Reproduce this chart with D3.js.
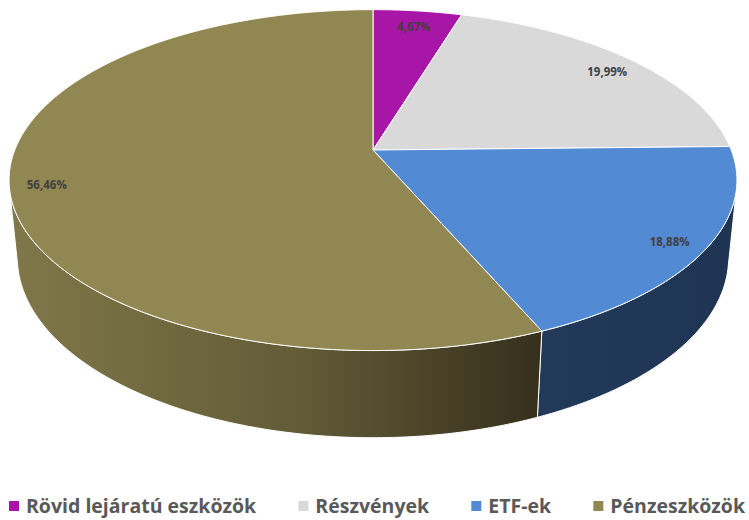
<!DOCTYPE html>
<html><head><meta charset="utf-8">
<script src="https://cdn.jsdelivr.net/npm/d3@7"></script>
<style>body{margin:0;background:#fff}svg{display:block}</style></head>
<body>
<svg id="c" width="749" height="520"></svg>
<script>
const categories = ["Rövid lejáratú eszközök", "Részvények", "ETF-ek", "Pénzeszközök"];
const values = [4.67, 19.99, 18.88, 56.46];
const valueLabels = ["4,67%", "19,99%", "18,88%", "56,46%"];
const topColors = ["#A816A8", "#D9D9D9", "#538AD4", "#918752"];
const sideColorsA = ["#6a0d6a", "#8a8a8a", "#22395a", "#807849"];
const sideColorsB = ["#4a084a", "#6a6a6a", "#1f3453", "#362f1c"];

const svg = d3.select("#c");
const cx = 373, cy = 150, alpha = Math.asin(0.461), R = 0.199, f = 1800, T = 0.049;
const sa = Math.sin(alpha), ca = Math.cos(alpha);
function proj(theta, y, k = 1) {
  const x = k * R * Math.sin(theta), z = k * R * Math.cos(theta);
  const depth = -y * sa + 1 + z * ca;
  const up = y * ca + z * sa;
  return [cx + f * x / depth, cy - f * up / depth];
}
function arcPts(a0, a1, y) {
  const n = Math.max(2, Math.ceil((a1 - a0) / 0.01));
  return d3.range(n + 1).map(i => proj(a0 + (a1 - a0) * i / n, y));
}
const pie = d3.pie().sort(null).value(d => d)(values);
const line = d3.line();
const defs = svg.append("defs");

// sides
const vis0 = Math.acos(-R / ca), vis1 = 2 * Math.PI - vis0;
pie.forEach((p, i) => {
  const a0 = Math.max(p.startAngle, vis0), a1 = Math.min(p.endAngle, vis1);
  if (a1 <= a0) return;
  const top = arcPts(a0, a1, 0), bot = arcPts(a0, a1, -T).reverse();
  const xs = top.concat(bot).map(d => d[0]);
  const g = defs.append("linearGradient").attr("id", "sg" + i)
    .attr("gradientUnits", "userSpaceOnUse")
    .attr("x1", d3.min(xs)).attr("x2", d3.max(xs)).attr("y1", 0).attr("y2", 0);
  g.append("stop").attr("offset", 0).attr("stop-color", sideColorsA[i]);
  g.append("stop").attr("offset", 0.55).attr("stop-color", d3.interpolateRgb(sideColorsA[i], sideColorsB[i])(0.4));
  g.append("stop").attr("offset", 1).attr("stop-color", sideColorsB[i]);
  svg.append("path").attr("d", line(top.concat(bot)) + "Z")
    .attr("fill", `url(#sg${i})`).attr("stroke", "#fff").attr("stroke-width", 1).attr("stroke-linejoin", "round");
});

// top faces
pie.forEach((p, i) => {
  const pts = [[cx, cy]].concat(arcPts(p.startAngle, p.endAngle, 0));
  svg.append("path").attr("d", line(pts) + "Z")
    .attr("fill", topColors[i]).attr("stroke", "#fff").attr("stroke-width", 1).attr("stroke-linejoin", "round");
});

// labels
pie.forEach((p, i) => {
  const m = (p.startAngle + p.endAngle) / 2;
  const [x, y] = proj(m, 0, 0.9);
  svg.append("text").attr("x", x).attr("y", y + 4).attr("dy", "0.35em")
    .attr("text-anchor", "middle").attr("font-family", "'Open Sans', sans-serif")
    .attr("font-weight", "bold").attr("font-size", 11.5).attr("fill", "#404040")
    .text(valueLabels[i]);
});

// legend
const leg = svg.append("g").attr("transform", "translate(0,513)");
const items = categories.map((c, i) => {
  const g = leg.append("g");
  g.append("rect").attr("x", 0).attr("y", -12).attr("width", 10).attr("height", 10).attr("fill", topColors[i]);
  const t = g.append("text").attr("x", 17).attr("y", 0).attr("font-family", "'Open Sans', sans-serif")
    .attr("font-weight", "bold").attr("font-size", 19.5).attr("fill", "#595959").text(c);
  return { g, w: 17 + t.node().getComputedTextLength() };
});
const left = 9, right = 745;
const sumW = d3.sum(items, d => d.w);
const gap = (right - left - sumW) / (items.length - 1);
let lx = left;
items.forEach(it => { it.g.attr("transform", `translate(${lx},0)`); lx += it.w + gap; });
</script>
</body></html>
